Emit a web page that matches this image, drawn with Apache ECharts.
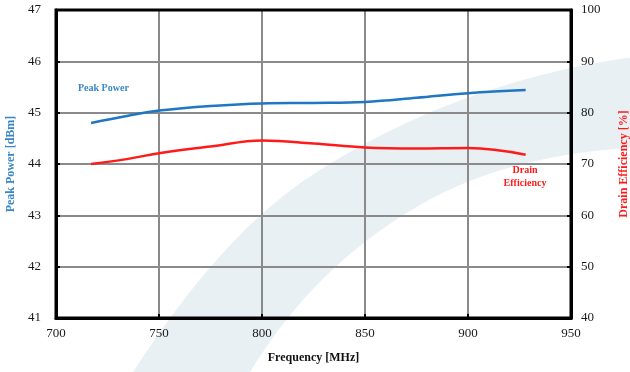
<!DOCTYPE html>
<html>
<head>
<meta charset="utf-8">
<script src="https://cdn.jsdelivr.net/npm/echarts@6/dist/echarts.min.js"></script>
<style>
  html, body { margin: 0; padding: 0; background: #ffffff; }
  #chart { width: 630px; height: 372px; }
</style>
</head>
<body>
<div id="chart"></div>
<script>
// Frequency sweep (MHz)
var freq = [717, 735, 750, 775, 800, 825, 850, 875, 900, 928];
// Peak output power (dBm)
var peakPower = [44.80, 44.94, 45.04, 45.13, 45.18, 45.19, 45.21, 45.29, 45.38, 45.44];
// Drain efficiency (%)
var drainEff = [70.0, 71.0, 72.1, 73.4, 74.6, 74.0, 73.2, 73.0, 73.1, 71.8];

var serif = '"Liberation Serif", "DejaVu Serif", serif';
var blue = '#1f77c4';
var red = '#ff1a1a';

function pairs(xs, ys) {
  return xs.map(function (x, i) { return [x, ys[i]]; });
}

// Sample a chain of cubic Bezier segments into polygon points (background swoosh).
function bezierChain(segs) {
  var pts = [];
  segs.forEach(function (s) {
    for (var i = 0; i <= 24; i++) {
      var t = i / 24, u = 1 - t;
      var a = u * u * u, b = 3 * u * u * t, c = 3 * u * t * t, d = t * t * t;
      pts.push([a * s[0][0] + b * s[1][0] + c * s[2][0] + d * s[3][0],
                a * s[0][1] + b * s[1][1] + c * s[2][1] + d * s[3][1]]);
    }
  });
  return pts;
}
var swoosh = bezierChain([
  [[133, 372], [180, 300], [240, 220], [320, 170]],
  [[320, 170], [400, 120], [500, 75], [640, 56]],
  [[640, 148], [560, 150], [480, 170], [420, 205]],
  [[420, 205], [360, 240], [300, 290], [250, 372]]
]);

var chart = echarts.init(document.getElementById('chart'));

var axisLine = { show: true, lineStyle: { color: '#000', width: 3 } };
var tick = { show: true, inside: true, length: 4, lineStyle: { color: '#000', width: 2 } };
var split = { show: true, lineStyle: { color: '#8a8a8a', width: 2 } };
function tickLabel(margin) {
  return { margin: margin, color: '#1a1a1a', fontFamily: serif, fontSize: 13 };
}

chart.setOption({
  animation: false,
  backgroundColor: '#ffffff',
  grid: { left: 56, right: 59, top: 10, bottom: 54, containLabel: false, outerBoundsMode: 'none' },
  graphic: {
    elements: [
      {
        type: 'polygon',
        z: -10,
        silent: true,
        shape: { points: swoosh },
        style: { fill: '#e8f0f4' }
      },
      {
        type: 'rect',
        z: 10,
        silent: true,
        shape: { x: 56, y: 10, width: 515, height: 308 },
        style: { fill: 'transparent', stroke: '#000', lineWidth: 3 }
      },
      {
        type: 'text',
        x: 78,
        y: 83,
        silent: true,
        style: { text: 'Peak Power', fill: '#3a86c8', font: 'bold 10px ' + serif }
      },
      {
        type: 'text',
        x: 525,
        y: 164,
        silent: true,
        style: {
          text: 'Drain\nEfficiency',
          fill: red,
          font: 'bold 10px ' + serif,
          align: 'center',
          lineHeight: 13
        }
      }
    ]
  },
  xAxis: {
    type: 'value',
    min: 700, max: 950, interval: 50,
    name: 'Frequency [MHz]',
    nameLocation: 'middle',
    nameGap: 34,
    nameTextStyle: { color: '#111', fontFamily: serif, fontSize: 12, fontWeight: 'bold' },
    axisLine: axisLine,
    axisTick: tick,
    splitLine: split,
    axisLabel: tickLabel(9)
  },
  yAxis: [
    {
      type: 'value',
      position: 'left',
      min: 41, max: 47, interval: 1,
      name: 'Peak Power [dBm]',
      nameLocation: 'middle',
      nameGap: 31,
      nameTextStyle: { color: '#3a86c8', fontFamily: serif, fontSize: 12, fontWeight: 'bold' },
      axisLine: axisLine,
      axisTick: tick,
      splitLine: split,
      axisLabel: tickLabel(15)
    },
    {
      type: 'value',
      position: 'right',
      min: 40, max: 100, interval: 10,
      name: 'Drain Efficiency [%]',
      nameLocation: 'middle',
      nameRotate: 90,
      nameGap: 47,
      nameTextStyle: { color: red, fontFamily: serif, fontSize: 12, fontWeight: 'bold' },
      axisLine: axisLine,
      axisTick: tick,
      splitLine: { show: false },
      axisLabel: tickLabel(10)
    }
  ],
  series: [
    {
      type: 'line',
      yAxisIndex: 0,
      data: pairs(freq, peakPower),
      smooth: 0.4,
      showSymbol: false,
      lineStyle: { color: blue, width: 2.5 },
      z: 5
    },
    {
      type: 'line',
      yAxisIndex: 1,
      data: pairs(freq, drainEff),
      smooth: 0.4,
      showSymbol: false,
      lineStyle: { color: red, width: 2.5 },
      z: 5
    }
  ]
});
</script>
</body>
</html>
